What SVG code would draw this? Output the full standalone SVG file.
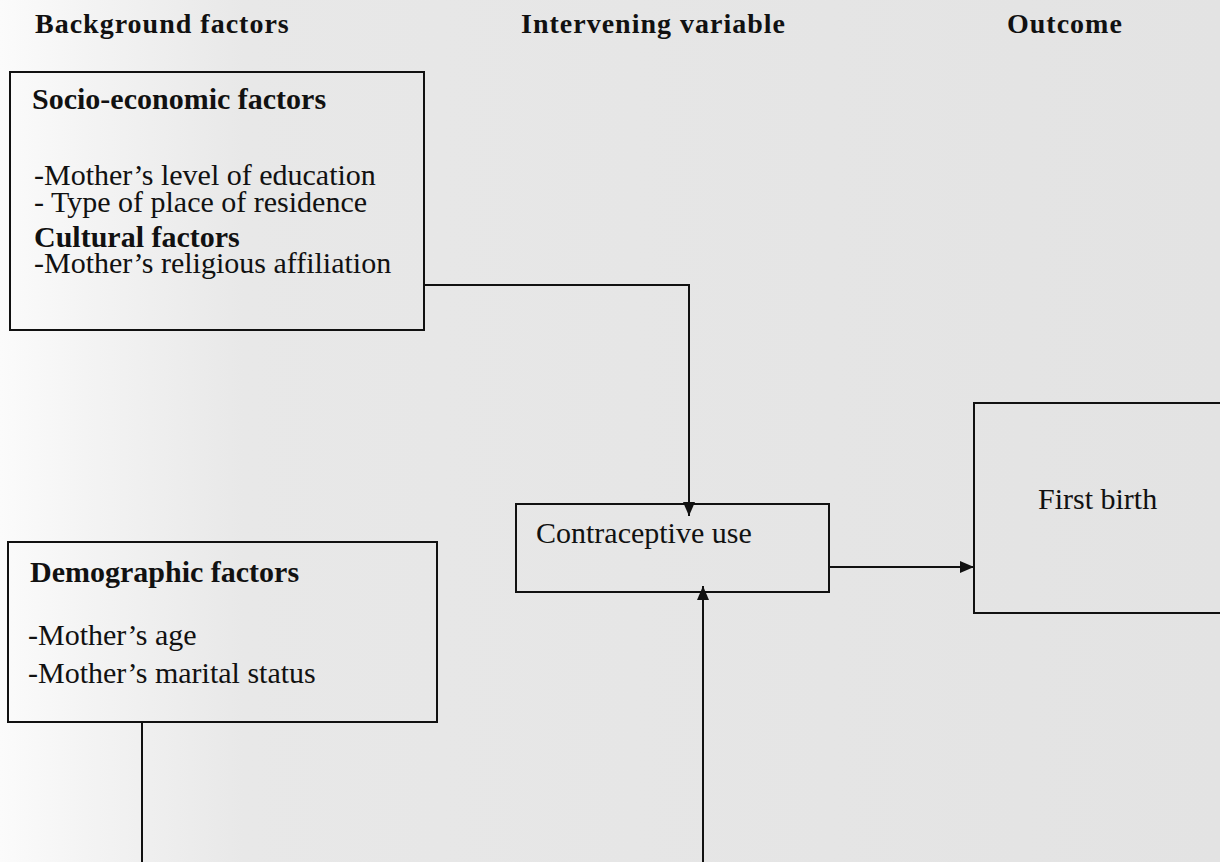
<svg xmlns="http://www.w3.org/2000/svg" width="1220" height="862" viewBox="0 0 1220 862">
<defs>
<linearGradient id="bg" x1="0" y1="0" x2="1220" y2="0" gradientUnits="userSpaceOnUse">
<stop offset="0" stop-color="#fbfbfb"/>
<stop offset="0.08" stop-color="#f3f3f3"/>
<stop offset="0.2" stop-color="#e8e8e8"/>
<stop offset="1" stop-color="#e3e3e3"/>
</linearGradient>
<marker id="ah" viewBox="0 0 14 12" refX="14" refY="6" markerWidth="14" markerHeight="12" markerUnits="userSpaceOnUse" orient="auto">
<path d="M0,0 L14,6 L0,12 Z" fill="#111"/>
</marker>
<style>
.box{fill:none;stroke:#111;stroke-width:2}
.ln{fill:none;stroke:#111;stroke-width:2}
.hd{font-family:"Liberation Serif",serif;font-weight:bold;font-size:28px;fill:#111;letter-spacing:1px}
.b{font-family:"Liberation Serif",serif;font-weight:bold;font-size:30px;fill:#111}
.t{font-family:"Liberation Serif",serif;font-size:30px;fill:#111}
</style>
</defs>
<rect x="0" y="0" width="1220" height="862" fill="url(#bg)"/>
<g id="headers">
<text class="hd" x="35" y="33">Background factors</text>
<text class="hd" x="521" y="33">Intervening variable</text>
<text class="hd" x="1007" y="33">Outcome</text>
</g>
<g id="socio">
<rect class="box" x="10" y="72" width="414" height="258"/>
<text class="b" x="32" y="109">Socio-economic factors</text>
<text class="t" x="34" y="185">-Mother’s level of education</text>
<text class="t" x="34" y="212">- Type of place of residence</text>
<text class="b" x="34" y="247">Cultural factors</text>
<text class="t" x="34" y="273">-Mother’s religious affiliation</text>
</g>
<g id="demographic">
<rect class="box" x="8" y="542" width="429" height="180"/>
<text class="b" x="30" y="582">Demographic factors</text>
<text class="t" x="28" y="645">-Mother’s age</text>
<text class="t" x="28" y="683">-Mother’s marital status</text>
</g>
<g id="contraceptive">
<rect class="box" x="516" y="504" width="313" height="88"/>
<text class="t" x="536" y="543">Contraceptive use</text>
</g>
<g id="firstbirth">
<rect class="box" x="974" y="403" width="260" height="210"/>
<text class="t" x="1038" y="509">First birth</text>
</g>
<g id="connectors">
<path class="ln" d="M424,285 H689 V516" marker-end="url(#ah)"/>
<path class="ln" d="M703,862 V586" marker-end="url(#ah)"/>
<path class="ln" d="M829,567 H974" marker-end="url(#ah)"/>
<path class="ln" d="M142,722 V862"/>
</g>
</svg>
